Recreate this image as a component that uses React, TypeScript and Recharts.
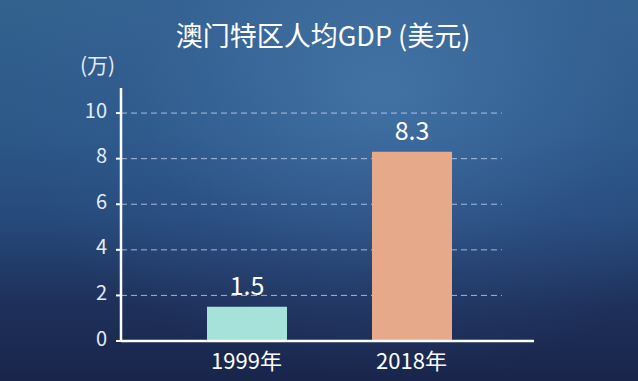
import React from 'react';
import { BarChart, Bar, XAxis, YAxis, CartesianGrid, Cell, LabelList } from 'recharts';

const categories = ['1999年', '2018年'];
const gdpValues = [1.5, 8.3];
const barColors = ['#a7e2da', '#e6aa8b'];
const yTicks = [0, 2, 4, 6, 8, 10];
const titleText = '澳门特区人均GDP (美元)';
const unitText = '(万)';

const data = categories.map((c, i) => ({ name: c, value: gdpValues[i] }));

const FONT = '"Noto Sans CJK SC", "Noto Sans", sans-serif';

const YTick = (props: any) => {
  const { x, y, payload } = props;
  return (
    <text x={x} y={y - 4} textAnchor="end" dominantBaseline="central" fill="#e4ecf6" fontSize={20} fontFamily={FONT}>
      {payload.value}
    </text>
  );
};

const XTick = (props: any) => {
  const { x, y, payload } = props;
  return (
    <text x={x} y={y} textAnchor="middle" dominantBaseline="central" fill="#ffffff" fontSize={22} fontFamily={FONT}>
      {payload.value}
    </text>
  );
};

const gridLine = (props: any) => {
  const { x1, y1, x2, y2, index } = props;
  if (Math.abs(y1 - 341) < 2 || y1 < 92) return <g key={`g-${index}`} />;
  return (
    <line
      key={`g-${index}`}
      x1={x1}
      x2={x2 - 32}
      y1={y1}
      y2={y2}
      stroke="rgba(220,232,255,0.7)"
      strokeWidth={1}
      strokeDasharray="6 4"
    />
  );
};

export default function App() {
  return (
    <div
      style={{
        position: 'fixed',
        left: 0,
        top: 0,
        width: 638,
        height: 381,
        overflow: 'hidden',
        background:
          'radial-gradient(ellipse at 60% 25%, rgba(85,135,190,0.5) 0%, rgba(60,100,160,0.2) 45%, rgba(0,0,0,0) 70%), linear-gradient(180deg, #33628f 0%, #2c5888 35%, #26497a 58%, #1e305a 80%, #19254b 100%)',
        fontFamily: FONT,
      }}
    >
      <div
        style={{
          position: 'absolute',
          left: 0,
          width: 638,
          top: 17,
          textAlign: 'center',
          color: '#ffffff',
          fontSize: 27,
          lineHeight: '36px',
          paddingLeft: 4,
        }}
      >
        {titleText}
      </div>
      <div
        style={{
          position: 'absolute',
          left: 80,
          top: 49,
          color: '#e4ecf6',
          fontSize: 21,
          lineHeight: '30px',
        }}
      >
        {unitText}
      </div>
      <div style={{ position: 'absolute', left: 0, top: 0 }}>
        <BarChart
          width={638}
          height={381}
          data={data}
          margin={{ top: 88, right: 104, bottom: 10, left: 61 }}
        >
          <CartesianGrid vertical={false} horizontal={gridLine} />
          <XAxis
            dataKey="name"
            height={30}
            padding={{ left: 43, right: 40 }}
            axisLine={{ stroke: '#ffffff', strokeWidth: 2.5 }}
            tickLine={false}
            tickSize={0}
            tickMargin={18}
            tick={<XTick />}
            interval={0}
          />
          <YAxis
            width={60}
            domain={[0, 11.1]}
            ticks={yTicks}
            interval={0}
            axisLine={{ stroke: '#ffffff', strokeWidth: 2.5 }}
            tickLine={{ stroke: '#ffffff', strokeWidth: 2 }}
            tickSize={5}
            tickMargin={9}
            tick={<YTick />}
          />
          <Bar dataKey="value" barSize={80} isAnimationActive={false}>
            {data.map((d, i) => (
              <Cell key={d.name} fill={barColors[i]} />
            ))}
            <LabelList
              dataKey="value"
              position="top"
              offset={12}
              fill="#ffffff"
              fontSize={25}
              fontFamily={FONT}
            />
          </Bar>
        </BarChart>
      </div>
    </div>
  );
}
